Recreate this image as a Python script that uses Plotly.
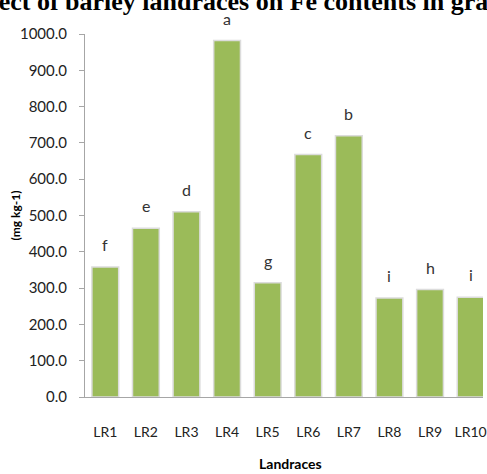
import plotly.graph_objects as go

categories = ["LR1", "LR2", "LR3", "LR4", "LR5", "LR6", "LR7", "LR8", "LR9", "LR10"]
fe_values = [358, 465, 510, 982, 315, 668, 720, 273, 296, 275]
letters = ["f", "e", "d", "a", "g", "c", "b", "i", "h", "i"]
y_ticks = [0, 100, 200, 300, 400, 500, 600, 700, 800, 900, 1000]

W, H = 487, 474
ML, MT, MB = 85, 34, 77
plot_w_full = 410  # plot would extend to 495 px; cut at figure edge
visible_w = W - ML
n = len(categories)
x_max = -0.5 + n * visible_w / plot_w_full

font_main = "Lato, Carlito, Calibri, 'Open Sans', sans-serif"

fig = go.Figure()
fig.add_trace(go.Bar(
    x=list(range(n)), y=fe_values,
    width=0.66,
    marker=dict(color="#9BBB59", line=dict(color="#dcdcdc", width=1.5)),
    hoverinfo="skip",
))

annotations = []
for i, (v, t) in enumerate(zip(fe_values, letters)):
    annotations.append(dict(
        x=i, y=v, xref="x", yref="y", text=t, showarrow=False,
        yanchor="bottom", yshift=11,
        font=dict(family=font_main, size=16, color="#333333"),
    ))

# title (cut at top of image)
annotations.append(dict(
    xref="paper", yref="paper", x=0, xanchor="left", xshift=-(ML + 38),
    y=1 + (MT - 1.5) / (H - MT - MB), yanchor="middle",
    text="<b>Effect of barley landraces on Fe contents in grains</b>",
    showarrow=False,
    font=dict(family="'Liberation Serif', 'Times New Roman', serif", size=26, color="black"),
))
# y axis title
annotations.append(dict(
    xref="paper", yref="paper", x=0, xanchor="center", xshift=-(ML - 15),
    y=0.5, yanchor="middle", textangle=-90,
    text="<b>(mg kg-1)</b>", showarrow=False,
    font=dict(family=font_main, size=12, color="black"),
))
# x axis title
annotations.append(dict(
    xref="paper", yref="paper", x=0, xanchor="center", xshift=290 - ML,
    y=0, yanchor="middle", yshift=-(463 - (H - MB)),
    text="<b>Landraces</b>", showarrow=False,
    font=dict(family=font_main, size=14, color="black"),
))

fig.update_layout(
    width=W, height=H,
    margin=dict(l=ML, r=0, t=MT, b=MB, pad=0),
    plot_bgcolor="white", paper_bgcolor="white",
    showlegend=False,
    annotations=annotations,
    bargap=0.34,
)
fig.update_xaxes(
    range=[-0.5, x_max],
    tickmode="array", tickvals=list(range(n)), ticktext=categories,
    showline=True, linecolor="#a6a6a6", linewidth=1,
    ticks="", showgrid=False, zeroline=False,
    ticklabelstandoff=22,
    ticklabeloverflow="allow",
    tickfont=dict(family=font_main, size=14, color="#222222"),
)
fig.update_yaxes(
    range=[0, 1000],
    tickmode="array", tickvals=y_ticks,
    ticktext=[f"{v:.1f}" for v in y_ticks],
    showline=True, linecolor="#a6a6a6", linewidth=1,
    ticks="outside", ticklen=5, tickcolor="#a6a6a6",
    showgrid=False, zeroline=False,
    ticklabelstandoff=9,
    tickfont=dict(family=font_main, size=15, color="#222222"),
)

fig.write_html(
    "out.html",
    config={"displayModeBar": False},
    post_script="document.body.style.margin='0';document.body.style.overflow='hidden';",
)
